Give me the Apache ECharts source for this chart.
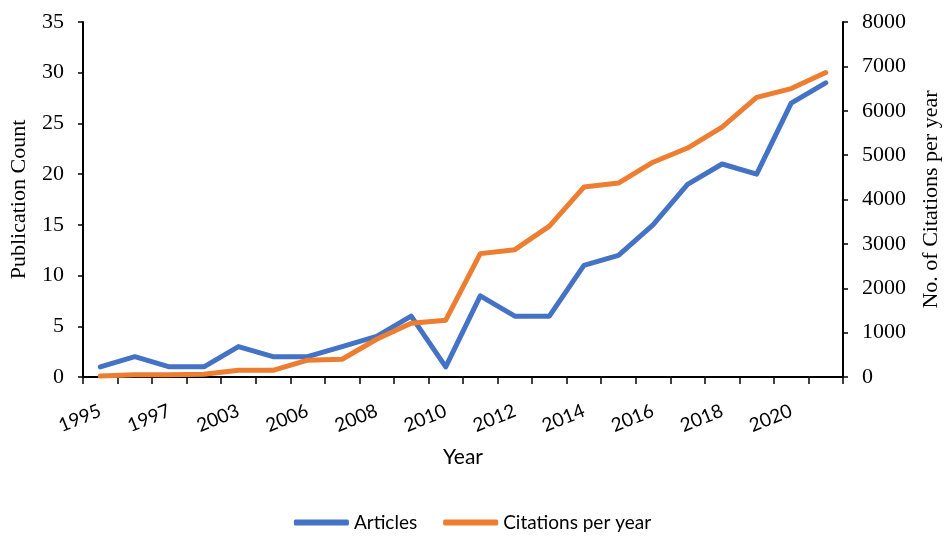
<!DOCTYPE html>
<html>
<head>
<meta charset="utf-8">
<script src="https://cdn.jsdelivr.net/npm/echarts@6/dist/echarts.min.js"></script>
<style>
  html, body { margin: 0; padding: 0; background: #fff; }
  #main { width: 945px; height: 538px; }
</style>
</head>
<body>
<div id="main"></div>
<script>
// years on the x axis
const years = ["1995", "1996", "1997", "2001", "2003", "2005", "2006", "2007", "2008", "2009", "2010",
  "2011", "2012", "2013", "2014", "2015", "2016", "2017", "2018", "2019", "2020", "2021"];
// publication count (left axis)
const articles = [1, 2, 1, 1, 3, 2, 2, 3, 4, 6, 1, 8, 6, 6, 11, 12, 15, 19, 21, 20, 27, 29];
// citations per year (right axis)
const citations = [20, 50, 50, 60, 150, 150, 380, 400, 850, 1210, 1280, 2780, 2870, 3400, 4280, 4370,
  4840, 5160, 5630, 6300, 6500, 6860];

const serif = "Liberation Serif";
const sans = "Lato";

let chart = echarts.init(document.getElementById("main"));

chart.setOption({
  animation: false,
  textStyle: { fontFamily: serif },
  grid: { left: 83, right: 102, top: 22, bottom: 161, outerBoundsMode: "none" },
  legend: {
    bottom: 1,
    left: "center",
    itemWidth: 55,
    itemHeight: 6,
    itemGap: 26,
    icon: "roundRect",
    textStyle: { fontFamily: sans, fontSize: 19, color: "#000" },
    data: ["Articles", "Citations per year"]
  },
  xAxis: {
    type: "category",
    data: years,
    name: "Year",
    nameLocation: "middle",
    nameGap: 70,
    nameTextStyle: { fontFamily: sans, fontSize: 21, color: "#000" },
    axisLine: { lineStyle: { color: "#000", width: 2 } },
    axisTick: { show: true, interval: 0, length: 7, lineStyle: { color: "#000", width: 1.5 } },
    axisLabel: {
      interval: 1,
      rotate: 22,
      fontFamily: sans,
      fontSize: 19,
      color: "#000",
      margin: 33
    }
  },
  yAxis: [
    {
      type: "value",
      min: 0, max: 35, interval: 5,
      name: "Publication Count",
      nameLocation: "middle",
      nameGap: 53,
      nameTextStyle: { fontFamily: serif, fontSize: 22, color: "#000" },
      splitLine: { show: false },
      axisLine: { show: true, lineStyle: { color: "#000", width: 2 } },
      axisTick: { show: true, length: 5, lineStyle: { color: "#000", width: 1.5 } },
      axisLabel: { fontFamily: serif, fontSize: 22, color: "#000", margin: 19,
        formatter: function (v) { return String(v); } }
    },
    {
      type: "value",
      min: 0, max: 8000, interval: 1000,
      name: "No. of Citations per year",
      nameLocation: "middle",
      nameGap: 77,
      nameRotate: 90,
      nameTextStyle: { fontFamily: serif, fontSize: 22, color: "#000" },
      position: "right",
      splitLine: { show: false },
      axisLine: { show: true, lineStyle: { color: "#000", width: 2 } },
      axisTick: { show: true, length: 5, lineStyle: { color: "#000", width: 1.5 } },
      axisLabel: { fontFamily: serif, fontSize: 22, color: "#000", margin: 19,
        formatter: function (v) { return String(v); } }
    }
  ],
  series: [
    {
      name: "Articles",
      type: "line",
      yAxisIndex: 0,
      data: articles,
      symbol: "none",
      color: "#4472C4",
      lineStyle: { width: 5, cap: "round", join: "round" }
    },
    {
      name: "Citations per year",
      type: "line",
      yAxisIndex: 1,
      data: citations,
      symbol: "none",
      color: "#ED7D31",
      lineStyle: { width: 5, cap: "round", join: "round" }
    }
  ]
});
</script>
</body>
</html>
